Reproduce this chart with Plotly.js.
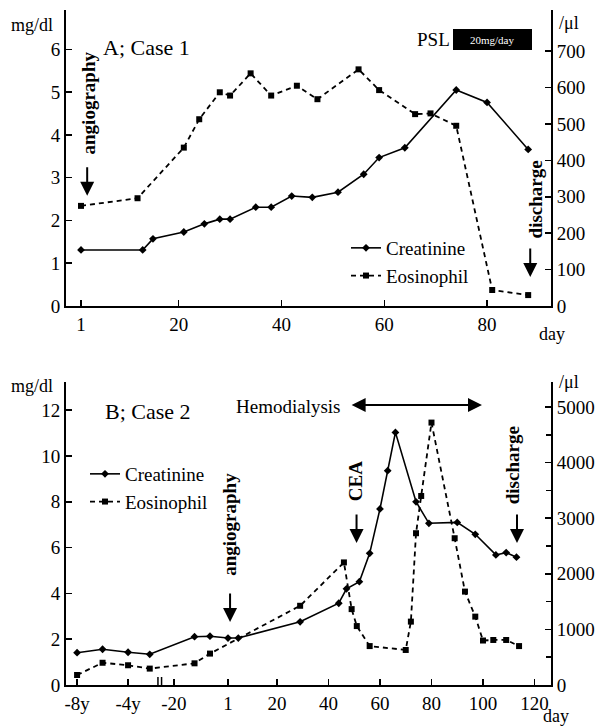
<!DOCTYPE html>
<html>
<head>
<meta charset="utf-8">
<script src="https://cdn.plot.ly/plotly-3.0.1.min.js"></script>
<style>
  html, body { margin: 0; padding: 0; background: #fff; }
  #chart { width: 599px; height: 728px; }
</style>
</head>
<body>
<div id="chart"></div>
<script>
// ---------- Case 1 (panel A) ----------
const caseA_creatDays = [1, 13, 15, 21, 25, 28, 30, 35, 38, 42, 46, 51, 56, 59, 64, 74, 80, 88];
const caseA_creat     = [1.31, 1.31, 1.57, 1.73, 1.92, 2.03, 2.03, 2.31, 2.31, 2.57, 2.54, 2.66, 3.08, 3.47, 3.70, 5.05, 4.76, 3.66];
const caseA_eosDays   = [1, 12, 21, 24, 28, 30, 34, 38, 43, 47, 55, 59, 66, 69, 74, 81, 88];
const caseA_eos       = [275, 296, 435, 513, 587, 578, 639, 578, 605, 568, 650, 593, 527, 529, 495, 44, 30];
const caseA_xTicks    = [1, 20, 40, 60, 80];

// ---------- Case 2 (panel B) ----------
// pre-admission values, time in years
const caseB_preYears  = [-8, -6, -4, -2.3];
const caseB_preCreat  = [1.41, 1.56, 1.43, 1.34];
const caseB_preEos    = [180, 400, 355, 295];
// hospital course, time in days
const caseB_creatDays = [-12, -6, 1, 5, 29, 44, 47, 52, 56, 60, 63, 66, 74, 79, 90, 97, 105, 109, 113];
const caseB_creat     = [2.11, 2.13, 2.05, 2.05, 2.76, 3.57, 4.2, 4.51, 5.75, 7.69, 9.36, 11.03, 8.0, 7.06, 7.1, 6.58, 5.68, 5.78, 5.58];
const caseB_eosDays   = [-12, -6, 29, 46, 49, 51, 56, 70, 72, 74, 76, 80, 89, 93, 97, 100, 104, 109, 114];
const caseB_eos       = [390, 565, 1425, 2205, 1365, 1060, 700, 630, 1140, 2730, 3400, 4720, 2640, 1680, 1230, 800, 810, 810, 700];
const caseB_yearTicks = [-8, -4];
const caseB_dayTicks  = [-20, 1, 20, 40, 60, 80, 100, 120];

// broken axis: years are drawn on a compressed scale left of the break
function yearPos(y) { return -37.8 + (y + 4) * 4.95; }

const FONT = "'Liberation Serif', 'Times New Roman', serif";

const bX = caseB_preYears.map(yearPos);

const traces = [
  { x: caseA_creatDays, y: caseA_creat, xaxis: 'x', yaxis: 'y', name: 'Creatinine', legend: 'legend',
    mode: 'lines+markers', line: { color: '#000', width: 1.6 }, marker: { symbol: 'diamond', size: 6, color: '#000' } },
  { x: caseA_eosDays, y: caseA_eos, xaxis: 'x', yaxis: 'y2', name: 'Eosinophil', legend: 'legend',
    mode: 'lines+markers', line: { color: '#000', width: 1.8, dash: '5px,4px' }, marker: { symbol: 'square', size: 6, color: '#000' } },
  { x: bX.concat(caseB_creatDays), y: caseB_preCreat.concat(caseB_creat), xaxis: 'x2', yaxis: 'y3', name: 'Creatinine', legend: 'legend2',
    mode: 'lines+markers', line: { color: '#000', width: 1.6 }, marker: { symbol: 'diamond', size: 6, color: '#000' } },
  { x: bX.concat(caseB_eosDays), y: caseB_preEos.concat(caseB_eos), xaxis: 'x2', yaxis: 'y4', name: 'Eosinophil', legend: 'legend2',
    mode: 'lines+markers', line: { color: '#000', width: 1.8, dash: '5px,4px' }, marker: { symbol: 'square', size: 6, color: '#000' } }
];

const axisCommon = {
  showline: true, linecolor: '#000', linewidth: 2, ticks: 'inside', ticklen: 6, tickwidth: 1.5, tickcolor: '#000',
  showgrid: false, zeroline: false, tickfont: { family: FONT, size: 19, color: '#000' }, fixedrange: true
};

const T = 10, B = 43, PH = 728 - T - B; // plot area height in px
function py(px) { return (728 - B - px) / PH; }
const L = 66, PW = 485;
function pxx(px) { return (px - L) / PW; }

const txt = (s, size, extra) => Object.assign({ text: s, showarrow: false, xanchor: 'center', yanchor: 'middle',
  font: { family: FONT, size: size, color: '#000' } }, extra);
function downArrow(xref, yref, x, y, len) {
  return { xref, yref, x, y, ax: 0, ay: -len, text: '', showarrow: true, arrowhead: 2, arrowsize: 1.4, arrowwidth: 2, arrowcolor: '#000' };
}

const annotations = [
  // panel A
  txt('A; Case 1', 22, { xref: 'x', yref: 'y', x: 13.8, y: 6.05 }),
  txt('mg/dl', 18, { xref: 'paper', yref: 'paper', x: pxx(32), y: py(25) }),
  txt('/μl', 18, { xref: 'paper', yref: 'paper', x: pxx(569), y: py(23) }),
  txt('day', 18, { xref: 'paper', yref: 'paper', x: pxx(552), y: py(334) }),
  txt('PSL', 19, { xref: 'paper', yref: 'paper', x: pxx(433), y: py(40) }),
  txt('20mg/day', 11, { xref: 'paper', yref: 'paper', x: pxx(492), y: py(40), font: { family: FONT, size: 11, color: '#fff' } }),
  txt('<b>angiography</b>', 19, { xref: 'x', yref: 'y', x: 2.4, y: 4.74, textangle: -90 }),
  downArrow('x', 'y', 2.2, 2.58, 30),
  txt('<b>discharge</b>', 19, { xref: 'x', yref: 'y', x: 89.4, y: 2.5, textangle: -90 }),
  downArrow('x', 'y', 88.4, 0.68, 30),
  // panel B
  txt('B; Case 2', 22, { xref: 'x2', yref: 'y3', x: -30, y: 11.95 }),
  txt('mg/dl', 18, { xref: 'paper', yref: 'paper', x: pxx(32), y: py(386) }),
  txt('/μl', 18, { xref: 'paper', yref: 'paper', x: pxx(569), y: py(382) }),
  txt('day', 18, { xref: 'paper', yref: 'paper', x: pxx(556), y: py(716) }),
  txt('Hemodialysis', 19, { xref: 'x2', yref: 'y3', x: 45.8, y: 12.15, xanchor: 'right' }),
  { xref: 'x2', yref: 'y3', x: 99.6, y: 12.23, axref: 'x2', ayref: 'y3', ax: 48.4, ay: 12.23, text: '',
    showarrow: true, arrowside: 'end+start', arrowhead: 2, startarrowhead: 2, arrowsize: 1.4, startarrowsize: 1.4,
    arrowwidth: 2, arrowcolor: '#000' },
  txt('<b>angiography</b>', 19, { xref: 'x2', yref: 'y3', x: 1.8, y: 7.0, textangle: -90 }),
  downArrow('x2', 'y3', 1.8, 2.75, 30),
  txt('<b>CEA</b>', 19, { xref: 'x2', yref: 'y3', x: 50.3, y: 8.9, textangle: -90 }),
  downArrow('x2', 'y3', 50.9, 6.2, 30),
  txt('<b>discharge</b>', 19, { xref: 'x2', yref: 'y3', x: 111.3, y: 9.6, textangle: -90 }),
  downArrow('x2', 'y3', 113.2, 6.2, 30)
];

const shapes = [
  { type: 'rect', xref: 'paper', yref: 'paper', x0: pxx(453), x1: pxx(532), y0: py(50), y1: py(29),
    fillcolor: '#000', line: { width: 0 } },
  // axis break marks
  { type: 'rect', xref: 'x2', yref: 'y3', x0: -26.2, x1: -24.8, y0: -0.1, y1: 0.1, fillcolor: '#fff', line: { width: 0 } },
  { type: 'line', xref: 'x2', yref: 'y3', x0: -26.2, x1: -26.2, y0: -0.3, y1: 0.35, line: { color: '#000', width: 1.5 } },
  { type: 'line', xref: 'x2', yref: 'y3', x0: -24.8, x1: -24.8, y0: -0.3, y1: 0.35, line: { color: '#000', width: 1.5 } }
];

const legendCommon = {
  bgcolor: 'rgba(0,0,0,0)', borderwidth: 0, font: { family: FONT, size: 19, color: '#000' },
  xanchor: 'left', yanchor: 'top', itemwidth: 30, tracegroupgap: 0
};

const layout = {
  width: 599, height: 728,
  margin: { l: L, r: 599 - L - PW, t: T, b: B },
  paper_bgcolor: '#fff', plot_bgcolor: '#fff',
  font: { family: FONT, color: '#000' },
  showlegend: true,
  legend: Object.assign({}, legendCommon, { x: pxx(346), y: py(229) }),
  legend2: Object.assign({}, legendCommon, { x: pxx(85), y: py(455) }),
  xaxis: Object.assign({}, axisCommon, { domain: [0, 1], anchor: 'y', range: [-1.92, 92.44],
    tickvals: caseA_xTicks, ticktext: caseA_xTicks.map(String) }),
  yaxis: Object.assign({}, axisCommon, { domain: [py(306), 1], anchor: 'x', range: [0, 6.92],
    tickvals: [0, 1, 2, 3, 4, 5, 6] }),
  yaxis2: Object.assign({}, axisCommon, { overlaying: 'y', side: 'right', anchor: 'x', range: [0, 813],
    tickvals: [0, 100, 200, 300, 400, 500, 600, 700] }),
  xaxis2: Object.assign({}, axisCommon, { domain: [0, 1], anchor: 'y3', range: [-61.9, 126.4],
    tickvals: caseB_yearTicks.map(yearPos).concat(caseB_dayTicks),
    ticktext: caseB_yearTicks.map(v => v + 'y').concat(caseB_dayTicks.map(String)) }),
  yaxis3: Object.assign({}, axisCommon, { domain: [0, py(382)], anchor: 'x2', range: [0, 13.23],
    tickvals: [0, 2, 4, 6, 8, 10, 12] }),
  yaxis4: Object.assign({}, axisCommon, { overlaying: 'y3', side: 'right', anchor: 'x2', range: [0, 5450],
    tickvals: [0, 1000, 2000, 3000, 4000, 5000],
    minor: { tickvals: [500, 1500, 2500, 3500, 4500], ticks: 'inside', ticklen: 5, tickcolor: '#000', tickwidth: 1.5 } }),
  annotations: annotations,
  shapes: shapes
};

Plotly.newPlot('chart', traces, layout, { displayModeBar: false, staticPlot: true });
</script>
</body>
</html>
